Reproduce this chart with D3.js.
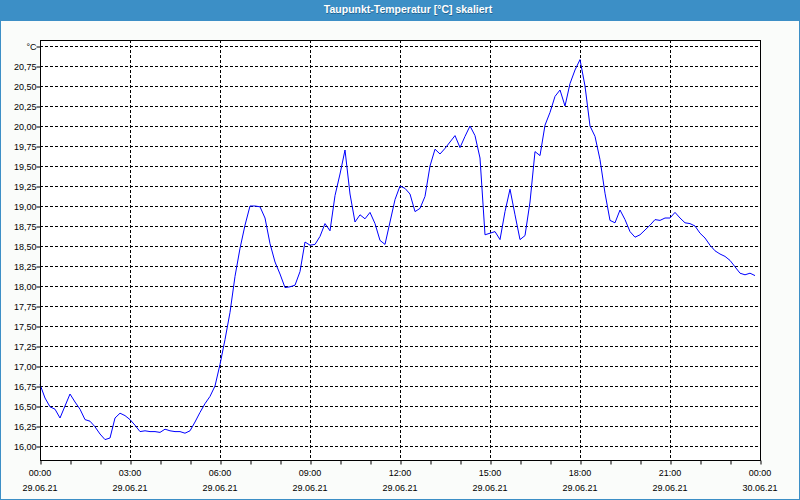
<!DOCTYPE html>
<html><head><meta charset="utf-8">
<script src="https://cdn.jsdelivr.net/npm/d3@7"></script>
<style>
html,body{margin:0;padding:0;background:#fafcfa;}
svg{display:block;}
</style></head>
<body>
<svg id="chart" width="800" height="500"></svg>
<script>
// ---- data ----
const title = "Taupunkt-Temperatur [°C] skaliert";
const unitLabel = "°C";
const startTime = "2021-06-29T00:00:00";
const stepMinutes = 10;
const values = [
  16.77,16.60,16.49,16.46,16.35,16.50,16.65,16.55,16.46,16.33,16.31,16.24,
  16.15,16.08,16.10,16.35,16.41,16.38,16.33,16.26,16.18,16.19,16.18,16.18,
  16.17,16.21,16.19,16.18,16.18,16.16,16.19,16.30,16.42,16.53,16.62,16.75,
  17.02,17.33,17.67,18.12,18.47,18.76,19.00,19.00,18.99,18.85,18.53,18.30,
  18.15,17.98,17.99,18.01,18.18,18.55,18.51,18.52,18.62,18.78,18.69,19.13,
  19.40,19.70,19.15,18.80,18.89,18.84,18.92,18.78,18.57,18.52,18.80,19.08,
  19.25,19.22,19.15,18.93,18.97,19.12,19.50,19.71,19.65,19.72,19.80,19.88,
  19.73,19.87,20.00,19.88,19.60,18.64,18.66,18.68,18.58,18.93,19.21,18.89,
  18.58,18.63,19.05,19.68,19.63,20.01,20.17,20.37,20.45,20.25,20.53,20.70,
  20.83,20.50,20.00,19.87,19.58,19.16,18.82,18.79,18.95,18.83,18.68,18.61,
  18.64,18.70,18.76,18.83,18.82,18.85,18.85,18.92,18.85,18.79,18.78,18.75,
  18.66,18.60,18.51,18.44,18.40,18.37,18.32,18.24,18.16,18.14,18.16,18.13
];
const yTicks = [16.00,16.25,16.50,16.75,17.00,17.25,17.50,17.75,18.00,18.25,18.50,18.75,19.00,19.25,19.50,19.75,20.00,20.25,20.50,20.75,21.00];
const yDomain = [15.825, 21.075];
const xDomain = ["2021-06-29T00:00:00", "2021-06-30T00:00:00"];

// ---- layout ----
const W = 800, H = 500;
const m = {left: 40, right: 40, top: 40, bottom: 40};
const pw = W - m.left - m.right, ph = H - m.top - m.bottom;
const svg = d3.select("#chart");
const font = "'Liberation Sans', Arial, sans-serif";

// frame & title bar
svg.append("rect").attr("x",0).attr("y",0).attr("width",W).attr("height",H).attr("fill","#fafcfa");
svg.append("rect").attr("x",0.5).attr("y",0.5).attr("width",W-1).attr("height",H-1)
  .attr("fill","none").attr("stroke","#3c8fc6").attr("stroke-width",1);
svg.append("rect").attr("x",0).attr("y",0).attr("width",W).attr("height",21).attr("fill","#3c8fc6");
svg.append("text").attr("x",408.5).attr("y",13.5).attr("text-anchor","middle")
  .attr("fill","#0d3a5c").attr("opacity",0.5)
  .style("font-family",font).style("font-size","10.5px").style("font-weight","bold").text(title);
svg.append("text").attr("x",408).attr("y",13).attr("text-anchor","middle")
  .attr("fill","#ffffff")
  .style("font-family",font).style("font-size","10.5px").style("font-weight","bold").text(title);

const start = new Date(startTime);
const data = values.map((v,i)=>({t:new Date(start.getTime()+i*stepMinutes*60000), v}));

const x = d3.scaleTime().domain(xDomain.map(d=>new Date(d))).range([0,pw]);
const y = d3.scaleLinear().domain(yDomain).range([ph,0]);

const g = svg.append("g").attr("transform",`translate(${m.left},${m.top})`);
g.append("rect").attr("width",pw).attr("height",ph).attr("fill","#ffffff");

// grid
const majorTimes = x.ticks(d3.timeHour.every(3));
g.append("g").selectAll("line").data(yTicks).join("line")
  .attr("x1",0).attr("x2",pw)
  .attr("y1",d=>Math.round(y(d))+0.5).attr("y2",d=>Math.round(y(d))+0.5)
  .attr("stroke","#000").attr("stroke-dasharray","3,2").attr("shape-rendering","crispEdges");
g.append("g").selectAll("line").data(majorTimes.slice(1,-1)).join("line")
  .attr("y1",0).attr("y2",ph)
  .attr("x1",d=>Math.round(x(d))+0.5).attr("x2",d=>Math.round(x(d))+0.5)
  .attr("stroke","#000").attr("stroke-dasharray","3,2").attr("shape-rendering","crispEdges");

// line
const line = d3.line().x(d=>x(d.t)).y(d=>y(d.v));
g.append("path").datum(data).attr("d",line).attr("fill","none")
  .attr("stroke","#0000ff").attr("stroke-width",1);

// border
g.append("rect").attr("x",0.5).attr("y",0.5).attr("width",pw).attr("height",ph)
  .attr("fill","none").attr("stroke","#000").attr("shape-rendering","crispEdges");

// y axis
const yAxis = d3.axisLeft(y).tickValues(yTicks).tickSize(4)
  .tickFormat(d=> d===21 ? unitLabel : d3.format(".2f")(d).replace(".",","));
const ya = g.append("g").attr("transform","translate(0.5,0.5)").call(yAxis);
ya.select(".domain").remove();
ya.selectAll("text").style("font-family",font).style("font-size","9px").attr("fill","#000").attr("x",-4);

// x axis: hourly minor ticks, 3-hourly labels
const xAxisMinor = d3.axisBottom(x).ticks(d3.timeHour.every(1)).tickSize(4).tickFormat("");
const xm = g.append("g").attr("transform",`translate(0.5,${ph+0.5})`).call(xAxisMinor);
xm.select(".domain").remove();
const fTime = d3.timeFormat("%H:%M"), fDate = d3.timeFormat("%d.%m.%y");
const xl = g.append("g").attr("transform",`translate(0,${ph})`);
const lab = xl.selectAll("g").data(majorTimes).join("g").attr("transform",d=>`translate(${x(d)},0)`);
lab.append("text").attr("y",16).attr("text-anchor","middle")
  .style("font-family",font).style("font-size","9px").attr("fill","#000").text(d=>fTime(d));
lab.append("text").attr("y",31).attr("text-anchor","middle")
  .style("font-family",font).style("font-size","9px").attr("fill","#000").text(d=>fDate(d));
</script>
</body></html>
